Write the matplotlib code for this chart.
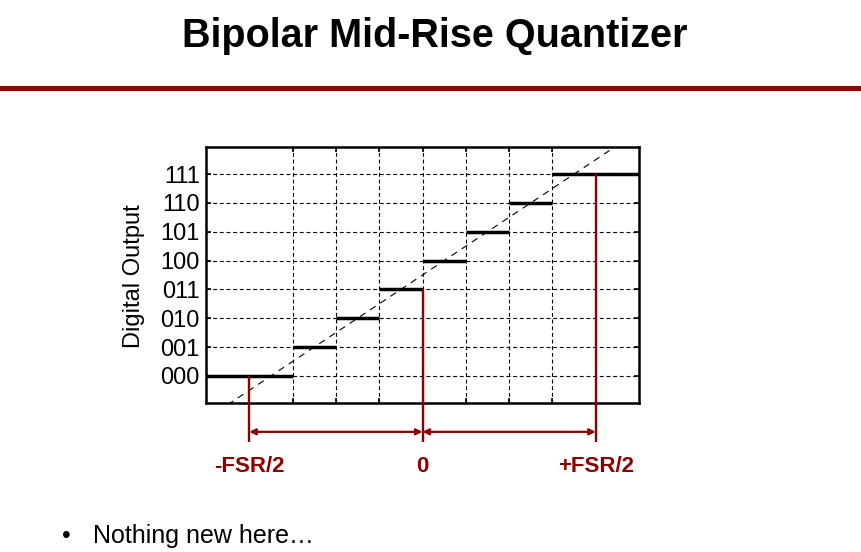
import matplotlib
matplotlib.use("Agg")
import matplotlib.pyplot as plt
from matplotlib.lines import Line2D

plt.rcParams['font.family'] = ['Liberation Sans', 'DejaVu Sans']

# ---- data ----
codes = ['000', '001', '010', '011', '100', '101', '110', '111']
levels = [0, 1, 2, 3, 4, 5, 6, 7]
step_start = [-5, -3, -2, -1, 0, 1, 2, 3]
step_end = [-3, -2, -1, 0, 1, 2, 3, 5]
grid_x = [-3, -2, -1, 0, 1, 2, 3]
ideal_x = [-4.5, 4.5]
ideal_y = [-1.0, 8.0]
fsr_x = [-4, 0, 4]
fsr_top = [0, 3, 7]
fsr_labels = ['-FSR/2', '0', '+FSR/2']

RED = '#8B0000'
BAR = '#990000'

W, H = 861, 552
fig = plt.figure(figsize=(W / 100, H / 100), dpi=100)
fig.patch.set_facecolor('white')

# axes placement (pixels -> fractions)
L, R, T, B = 206, 639, 147, 403
ax = fig.add_axes([L / W, 1 - B / H, (R - L) / W, (B - T) / H])
ax.set_xlim(-5, 5)
ax.set_ylim(-0.94, 7.94)

# grid
for gx in grid_x:
    ax.plot([gx, gx], [-0.94, 7.94], color='black', lw=0.8,
            dashes=(3.5, 2.5), zorder=1)
for lv in levels:
    ax.plot([-5, 5], [lv, lv], color='black', lw=0.8,
            dashes=(3.5, 2.5), zorder=1)

# ideal line
ax.plot(ideal_x, ideal_y, color='black', lw=0.8, dashes=(6, 5), zorder=2)

# quantizer steps
for s, e, lv in zip(step_start, step_end, levels):
    ax.plot([s, e], [lv, lv], color='black', lw=2.5, solid_capstyle='butt',
            zorder=3)

ax.set_yticks(levels)
ax.set_yticklabels(codes, fontsize=17)
ax.set_xticks(grid_x)
ax.set_xticklabels([])
ax.tick_params(direction='in', length=3.5, width=1.2, top=True, right=True,
               left=True, bottom=True, pad=4.5)
for sp in ax.spines.values():
    sp.set_linewidth(1.8)
    sp.set_zorder(5)

# red FSR markers
y_line_bottom = -2.29
y_arrow = -1.94
y_label = -3.15
for x, top in zip(fsr_x, fsr_top):
    ax.plot([x, x], [top, y_line_bottom], color=RED, lw=1.7, clip_on=False,
            zorder=6, solid_capstyle='butt')
for x0, x1 in [(fsr_x[0], fsr_x[1]), (fsr_x[1], fsr_x[2])]:
    ax.annotate('', xy=(x1, y_arrow), xytext=(x0, y_arrow),
                xycoords='data', textcoords='data', annotation_clip=False,
                arrowprops=dict(arrowstyle='<|-|>', color=RED, lw=1.6,
                                mutation_scale=9, shrinkA=0, shrinkB=0))
for x, lab in zip(fsr_x, fsr_labels):
    ax.text(x, y_label, lab, color=RED, fontsize=16, fontweight='bold',
            ha='center', va='center', clip_on=False)

# y label
fig.text(134 / W, 1 - 276 / H, 'Digital Output', rotation=90, fontsize=17,
         ha='center', va='center')

# title and bar
fig.text(435 / W, 1 - 47 / H, 'Bipolar Mid-Rise Quantizer', fontsize=28.5,
         fontweight='bold', ha='center', va='baseline')
fig.add_artist(Line2D([0, 1], [1 - 87.5 / H, 1 - 87.5 / H], color=BAR,
                      lw=3.6, transform=fig.transFigure))

# bullet
fig.text(66 / W, 1 - 543 / H, '\u2022', fontsize=18, ha='center',
         va='baseline')
fig.text(93 / W, 1 - 543 / H, 'Nothing new here\u2026', fontsize=18,
         ha='left', va='baseline')

fig.savefig('out.png', dpi=100, facecolor='white')
